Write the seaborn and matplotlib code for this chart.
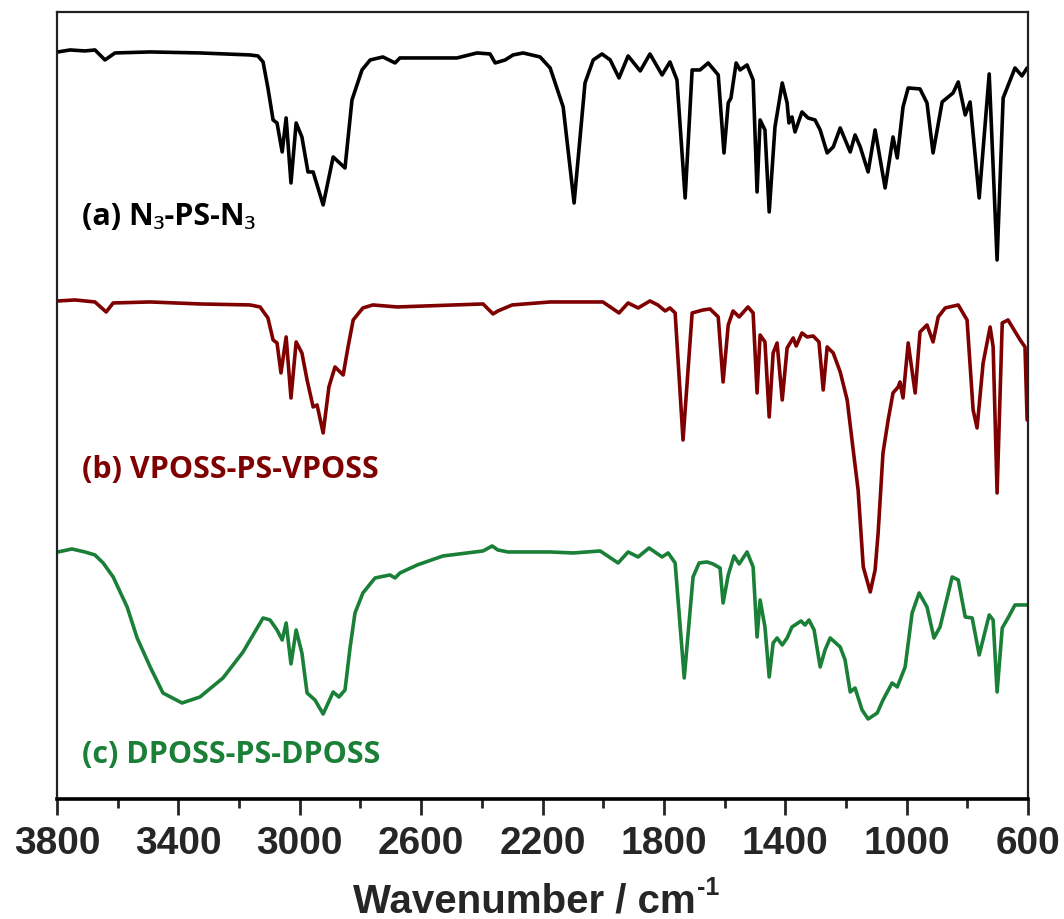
import matplotlib
matplotlib.use('Agg')
import matplotlib.pyplot as plt
import seaborn as sns
import pandas as pd

# FTIR spectra, transmittance in arbitrary units (curves offset vertically)
wn_a = [3797, 3757, 3708, 3675, 3642, 3609, 3493, 3329, 3164, 3138, 3121, 3105, 3088, 3075, 3058, 3045,
        3029, 3012, 2993, 2973, 2956, 2923, 2890, 2851, 2828, 2795, 2768, 2726, 2686, 2670, 2482, 2416,
        2373, 2356, 2323, 2297, 2264, 2208, 2175, 2165, 2132, 2096, 2060, 2033, 2004, 1977, 1948, 1918,
        1878, 1846, 1806, 1780, 1757, 1730, 1707, 1681, 1654, 1621, 1602, 1588, 1579, 1562, 1549, 1526,
        1506, 1493, 1483, 1467, 1453, 1434, 1410, 1394, 1388, 1378, 1368, 1345, 1325, 1302, 1285, 1262,
        1242, 1219, 1186, 1170, 1153, 1127, 1104, 1071, 1045, 1031, 1012, 995, 956, 933, 913, 883,
        847, 830, 807, 791, 761, 728, 702, 682, 643, 620, 603]
t_a = [748, 750, 749, 750, 740, 747, 748, 747, 745, 744, 738, 712, 680, 677, 648, 682,
       617, 677, 663, 628, 628, 595, 643, 632, 700, 730, 740, 743, 737, 742, 742, 747,
       746, 737, 740, 745, 747, 743, 732, 723, 693, 597, 717, 740, 746, 740, 722, 744,
       729, 746, 725, 738, 720, 602, 730, 730, 737, 725, 647, 697, 702, 737, 730, 735,
       720, 608, 680, 670, 588, 673, 717, 697, 677, 683, 668, 688, 682, 680, 670, 647,
       653, 672, 648, 665, 653, 628, 670, 612, 663, 642, 693, 712, 711, 697, 647, 698,
       707, 718, 685, 698, 602, 726, 540, 702, 732, 724, 732]

wn_b = [3797, 3741, 3675, 3638, 3615, 3493, 3329, 3164, 3131, 3105, 3088, 3075, 3062, 3045, 3029, 3012,
        2993, 2976, 2956, 2943, 2923, 2904, 2884, 2857, 2841, 2824, 2792, 2759, 2679, 2396, 2363, 2347,
        2300, 2175, 2001, 1948, 1918, 1885, 1846, 1820, 1796, 1780, 1763, 1737, 1707, 1671, 1648, 1621,
        1605, 1588, 1572, 1552, 1523, 1506, 1493, 1483, 1467, 1453, 1440, 1427, 1410, 1394, 1374, 1364,
        1345, 1328, 1308, 1289, 1275, 1262, 1242, 1219, 1196, 1177, 1160, 1143, 1120, 1104, 1094, 1078,
        1061, 1045, 1028, 1022, 1012, 995, 972, 956, 933, 913, 896, 873, 830, 801, 781, 768,
        748, 725, 715, 702, 685, 666, 626, 610, 603]
t_b = [499, 500, 498, 488, 497, 498, 496, 495, 493, 482, 460, 457, 427, 463, 402, 458,
       447, 420, 393, 395, 367, 413, 433, 425, 453, 480, 492, 495, 493, 496, 486, 489,
       495, 498, 498, 487, 497, 492, 499, 495, 489, 492, 487, 360, 487, 490, 491, 483,
       418, 475, 489, 483, 493, 487, 407, 465, 458, 383, 447, 457, 400, 452, 462, 454,
       467, 463, 464, 458, 410, 453, 447, 428, 400, 352, 310, 233, 208, 230, 267, 347,
       380, 407, 413, 418, 402, 457, 407, 468, 475, 458, 483, 492, 495, 480, 390, 372,
       437, 473, 453, 307, 477, 480, 460, 453, 380]

wn_c = [3797, 3751, 3708, 3675, 3648, 3615, 3569, 3536, 3493, 3451, 3388, 3329, 3253, 3187, 3121, 3098,
        3075, 3058, 3045, 3029, 3012, 2993, 2976, 2950, 2923, 2890, 2871, 2851, 2834, 2818, 2792, 2752,
        2703, 2686, 2670, 2613, 2528, 2396, 2366, 2347, 2314, 2175, 2099, 2010, 1951, 1918, 1885, 1849,
        1806, 1786, 1763, 1733, 1704, 1684, 1658, 1638, 1615, 1605, 1588, 1569, 1552, 1526, 1506, 1493,
        1483, 1467, 1453, 1440, 1427, 1410, 1394, 1378, 1348, 1335, 1322, 1305, 1285, 1269, 1252, 1219,
        1203, 1186, 1170, 1147, 1127, 1097, 1078, 1048, 1031, 1005, 982, 959, 933, 910, 890, 850,
        830, 807, 784, 761, 728, 715, 702, 685, 666, 643, 620, 603]
t_c = [248, 251, 248, 245, 237, 223, 193, 162, 133, 107, 97, 103, 122, 148, 182, 180,
       170, 160, 177, 136, 170, 147, 107, 100, 86, 108, 103, 110, 153, 187, 207, 222,
       225, 222, 227, 235, 244, 249, 254, 250, 248, 248, 247, 249, 237, 248, 243, 252,
       243, 247, 237, 122, 223, 237, 238, 236, 232, 197, 225, 244, 236, 248, 233, 163,
       200, 173, 123, 157, 162, 155, 162, 173, 179, 175, 180, 170, 133, 150, 162, 153,
       140, 108, 112, 90, 81, 87, 100, 117, 113, 133, 187, 207, 193, 162, 173, 223,
       220, 183, 182, 145, 185, 180, 108, 172, 182, 195, 195, 195]

labels = ['(a) N\u2083-PS-N\u2083', '(b) VPOSS-PS-VPOSS', '(c) DPOSS-PS-DPOSS']
colors = ['#000000', '#7f0000', '#1a7f37']
major_ticks = [3800, 3400, 3000, 2600, 2200, 1800, 1400, 1000, 600]
minor_ticks = [3600, 3200, 2800, 2400, 2000, 1600, 1200, 800]

sns.set_style('white')
plt.rcParams['font.family'] = ['Liberation Sans', 'DejaVu Sans']

fig = plt.figure(figsize=(10.64, 9.19), dpi=100)
ax = fig.add_axes([0.0536, 0.1306, 0.9126, 0.8564])

series = [(wn_a, t_a), (wn_b, t_b), (wn_c, t_c)]
for (wn, t), col in zip(series, colors):
    df = pd.DataFrame({'wn': wn, 't': t})
    sns.lineplot(data=df, x='wn', y='t', color=col, lw=2.6, ax=ax, estimator=None)

ax.set_xlim(3800, 600)
ax.set_ylim(1, 788)
ax.set_xticks(major_ticks)
ax.set_xticks(minor_ticks, minor=True)
ax.set_xticklabels([str(v) for v in major_ticks], fontsize=28, fontweight='bold')
ax.set_yticks([])
ax.set_ylabel('')
ax.set_xlabel('')
ax.tick_params(axis='x', which='major', direction='out', length=11.5, width=2,
               pad=8, bottom=True)
ax.tick_params(axis='x', which='minor', direction='out', length=6.5, width=2, bottom=True)

for side in ['top', 'left', 'right']:
    ax.spines[side].set_linewidth(1.6)
    ax.spines[side].set_color('#222222')
ax.spines['bottom'].set_linewidth(2.6)
ax.spines['bottom'].set_color('black')

for txt, col, yy in zip(labels, colors, [0.74, 0.418, 0.056]):
    ax.text(0.026, yy, txt, transform=ax.transAxes, color=col, fontsize=22,
            fontweight='bold', family=['Open Sans', 'Noto Sans', 'DejaVu Sans'],
            va='center', ha='left')

# axis title with a plain-hyphen superscript
main = fig.text(0.5, 0.0075, 'Wavenumber / cm', fontsize=29, fontweight='bold',
                ha='left', va='baseline')
sup = fig.text(0.5, 0.026, '-1', fontsize=18, fontweight='bold', ha='left', va='baseline')
fig.canvas.draw()
r = fig.canvas.get_renderer()
w_main = main.get_window_extent(r).width
w_sup = sup.get_window_extent(r).width
W = fig.bbox.width
x0 = 536 - (w_main + w_sup + 1) / 2
main.set_x(x0 / W)
sup.set_x((x0 + w_main + 1) / W)

fig.savefig('out.png', dpi=100)
